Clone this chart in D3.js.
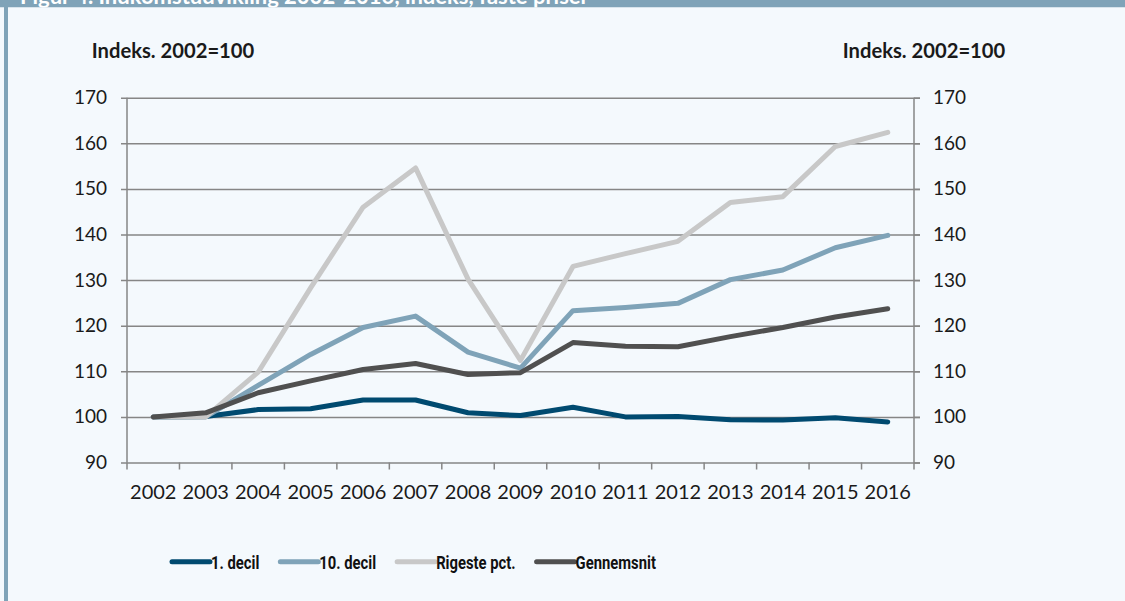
<!DOCTYPE html>
<html>
<head>
<meta charset="utf-8">
<script src="https://cdn.jsdelivr.net/npm/d3@7"></script>
<style>
  html, body { margin: 0; padding: 0; background: #f4f9fd; }
  svg { display: block; }
  .tick text { fill: #1a1a1a; }
</style>
</head>
<body>
<script>
const titel = "Figur 4. Indkomstudvikling 2002-2016, indeks, faste priser";
const aksetitel = "Indeks. 2002=100";
const aar = ["2002", "2003", "2004", "2005", "2006", "2007", "2008", "2009",
             "2010", "2011", "2012", "2013", "2014", "2015", "2016"];
const yTicks = [90, 100, 110, 120, 130, 140, 150, 160, 170];

const decil1 = [100, 100.1, 101.6, 101.8, 103.7, 103.7, 100.9, 100.3, 102.1, 100, 100.1, 99.4, 99.3, 99.8, 98.9];
const decil10 = [100, 100, 106.9, 113.7, 119.6, 122.1, 114.2, 110.7, 123.3, 124.0, 124.9, 130.1, 132.2, 137.1, 139.8];
const rigeste = [100, 100, 109.8, 128.3, 146.0, 154.6, 130.2, 112.4, 133.0, 135.8, 138.5, 147.0, 148.3, 159.3, 162.4];
const gennemsnit = [100, 100.9, 105.3, 107.9, 110.4, 111.7, 109.3, 109.7, 116.3, 115.5, 115.4, 117.6, 119.6, 121.9, 123.7];

const serier = [
  { navn: "1. decil", vaerdier: decil1, farve: "#004a70" },
  { navn: "10. decil", vaerdier: decil10, farve: "#7fa3b8" },
  { navn: "Rigeste pct.", vaerdier: rigeste, farve: "#c8c8c8" },
  { navn: "Gennemsnit", vaerdier: gennemsnit, farve: "#505050" }
];

const bredde = 1125, hoejde = 601;
const mV = 127, mH = 914, mT = 97.7, mB = 462.5;

const svg = d3.select("body").append("svg")
              .attr("width", bredde)
              .attr("height", hoejde);

// ramme og titelbjaelke (titlen er skaaret af foroven, som i originalen)
svg.append("rect").attr("x", 0).attr("y", 0).attr("width", bredde).attr("height", hoejde).attr("fill", "#f4f9fd");
svg.append("rect").attr("x", 4).attr("y", 0).attr("width", 4).attr("height", hoejde).attr("fill", "#7fa3b8");
svg.append("clipPath").attr("id", "hoved")
   .append("rect").attr("x", 0).attr("y", 0).attr("width", bredde).attr("height", 7.5);
const hoved = svg.append("g").attr("clip-path", "url(#hoved)");
hoved.append("rect").attr("x", 0).attr("y", 0).attr("width", bredde).attr("height", 7.5).attr("fill", "#7fa3b8");
hoved.append("text")
     .attr("x", 20).attr("y", 3.5)
     .attr("fill", "#ffffff")
     .style("font-family", "Lato, sans-serif")
     .style("font-weight", "bold")
     .style("font-size", "22px")
     .text(titel);

const x = d3.scaleBand().domain(aar).range([mV, mH]).padding(0);
const y = d3.scaleLinear().domain([90, 170]).range([mB, mT]);

// gitterlinjer + venstre akse
const yVenstre = svg.append("g")
   .attr("transform", "translate(" + (mV - 6) + ",0)")
   .call(d3.axisLeft(y).tickValues(yTicks).tickSize(-(mH + 6 - (mV - 6))).tickPadding(14));
yVenstre.select(".domain").remove();
yVenstre.selectAll(".tick line").attr("stroke", "#868686").attr("stroke-width", 1.5);
yVenstre.selectAll(".tick text").style("font-family", "Lato, sans-serif").style("font-size", "19px");

const yHoejre = svg.append("g")
   .attr("transform", "translate(" + mH + ",0)")
   .call(d3.axisRight(y).tickValues(yTicks).tickSize(6).tickPadding(13));
yHoejre.select(".domain").remove();
yHoejre.selectAll(".tick line").attr("stroke", "#868686").attr("stroke-width", 1.5);
yHoejre.selectAll(".tick text").style("font-family", "Lato, sans-serif").style("font-size", "19px");

svg.append("line").attr("x1", mV).attr("x2", mV).attr("y1", mT).attr("y2", mB)
   .attr("stroke", "#868686").attr("stroke-width", 1.5);
svg.append("line").attr("x1", mH).attr("x2", mH).attr("y1", mT).attr("y2", mB)
   .attr("stroke", "#868686").attr("stroke-width", 1.5);

// x-akse
const xAkse = svg.append("g")
   .attr("transform", "translate(0," + mB + ")")
   .call(d3.axisBottom(x).tickSize(0).tickPadding(22));
xAkse.select(".domain").remove();
xAkse.selectAll(".tick text").style("font-family", "Lato, sans-serif").style("font-size", "20px");

const graenser = aar.map(function(d) { return x(d); }).concat([x(aar[aar.length - 1]) + x.step()]);
svg.append("g").selectAll("line")
   .data(graenser)
   .enter()
   .append("line")
   .attr("x1", function(d) { return d; })
   .attr("x2", function(d) { return d; })
   .attr("y1", mB)
   .attr("y2", mB + 7)
   .attr("stroke", "#868686")
   .attr("stroke-width", 1.5);

// aksetitler
svg.append("text").attr("x", 173).attr("y", 58).attr("text-anchor", "middle")
   .style("font-family", "Lato, sans-serif").style("font-weight", "bold").style("font-size", "20.2px")
   .attr("fill", "#1a1a1a").text(aksetitel);
svg.append("text").attr("x", 924).attr("y", 58).attr("text-anchor", "middle")
   .style("font-family", "Lato, sans-serif").style("font-weight", "bold").style("font-size", "20.2px")
   .attr("fill", "#1a1a1a").text(aksetitel);

// linjer
const linje = d3.line()
                .x(function(d, i) { return x(aar[i]) + x.bandwidth() / 2; })
                .y(function(d) { return y(d); });

svg.append("g").selectAll("path")
   .data(serier)
   .enter()
   .append("path")
   .attr("d", function(d) { return linje(d.vaerdier); })
   .attr("fill", "none")
   .attr("stroke", function(d) { return d.farve; })
   .attr("stroke-width", 5)
   .attr("stroke-linecap", "round")
   .attr("stroke-linejoin", "round");

// signatur
const legende = svg.append("g");
let lx = 172;
const ly = 561.7;
serier.forEach(function(s) {
  legende.append("line")
         .attr("x1", lx).attr("x2", lx + 38)
         .attr("y1", ly).attr("y2", ly)
         .attr("stroke", s.farve).attr("stroke-width", 5).attr("stroke-linecap", "round");
  const t = legende.append("text")
         .attr("transform", "translate(" + (lx + 39) + ",568.5) scale(0.8,1)")
         .style("font-family", "Roboto, sans-serif")
         .style("font-weight", "bold")
         .style("font-size", "18.5px")
         .attr("fill", "#111")
         .text(s.navn);
  lx = lx + 39 + t.node().getComputedTextLength() * 0.8 + 21;
});
</script>
</body>
</html>
